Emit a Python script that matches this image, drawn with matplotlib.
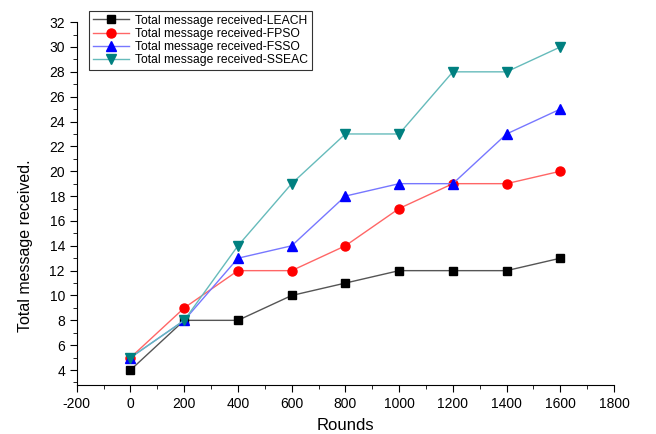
import matplotlib
matplotlib.use('Agg')
import matplotlib.pyplot as plt
from matplotlib.ticker import MultipleLocator

plt.rcParams['font.family'] = ['Liberation Sans', 'DejaVu Sans']
plt.rcParams['axes.unicode_minus'] = False

# Input data:
rounds = [0, 200, 400, 600, 800, 1000, 1200, 1400, 1600]
leach = [4, 8, 8, 10, 11, 12, 12, 12, 13]
fpso = [5, 9, 12, 12, 14, 17, 19, 19, 20]
fsso = [5, 8, 13, 14, 18, 19, 19, 23, 25]
sseac = [5, 8, 14, 19, 23, 23, 28, 28, 30]

fig = plt.figure(figsize=(6.56, 4.34), dpi=100)
ax = fig.add_axes([0.117, 0.113, 0.819, 0.836])

ax.plot(rounds, leach, color='#555555', lw=1, marker='s', ms=5.5, mfc='black', mec='black',
        label='Total message received-LEACH')
ax.plot(rounds, fpso, color='#ff6666', lw=1, marker='o', ms=6.5, mfc='red', mec='red',
        label='Total message received-FPSO')
ax.plot(rounds, fsso, color='#7777ff', lw=1, marker='^', ms=7.5, mfc='blue', mec='blue',
        label='Total message received-FSSO')
ax.plot(rounds, sseac, color='#66bbbb', lw=1, marker='v', ms=7.5, mfc='#008080', mec='#008080',
        label='Total message received-SSEAC')

ax.set_xlim(-200, 1800)
ax.set_ylim(2.8, 32)
ax.xaxis.set_major_locator(MultipleLocator(200))
ax.xaxis.set_minor_locator(MultipleLocator(100))
ax.yaxis.set_major_locator(MultipleLocator(2))
ax.yaxis.set_minor_locator(MultipleLocator(1))
ax.spines['top'].set_visible(False)
ax.spines['right'].set_visible(False)
ax.tick_params(which='major', direction='out', length=5, labelsize=10)
ax.tick_params(which='minor', direction='out', length=3)

ax.set_xlabel('Rounds', fontsize=12, labelpad=5)
ax.set_ylabel('Total message received.', fontsize=11.5)
ax.yaxis.set_label_coords(-0.082, 0.385)

leg = ax.legend(loc='upper left', bbox_to_anchor=(83/656, 1 - 5/434), bbox_transform=fig.transFigure,
                fontsize=8.7, frameon=True, fancybox=False, edgecolor='black',
                borderpad=0.3, labelspacing=0.1, handlelength=3, handletextpad=0.5)
leg.get_frame().set_linewidth(0.8)

fig.savefig('out.png', dpi=100)
